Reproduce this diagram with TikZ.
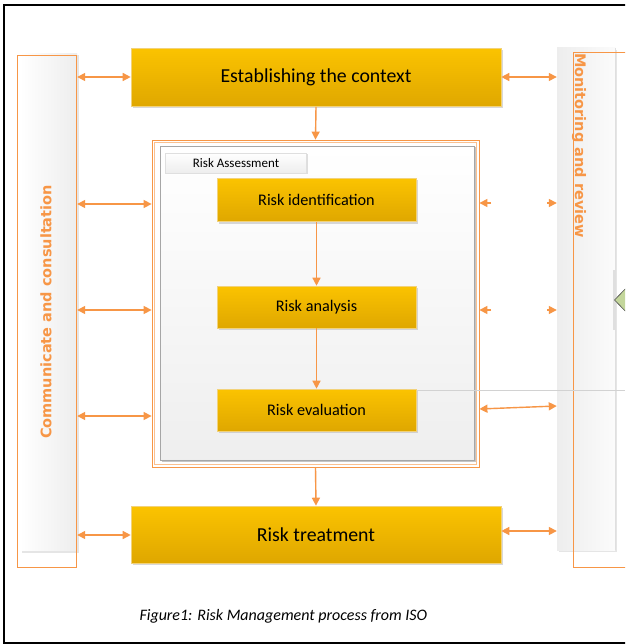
\documentclass[tikz,border=0pt]{standalone}
\usepackage{fontspec}
\setmainfont{Carlito}
\newfontfamily\labfont[BoldFont={DejaVu Sans Bold}]{DejaVu Sans}
\usetikzlibrary{arrows.meta,shadows,calc}
\definecolor{orangeA}{HTML}{F79646}
\definecolor{orangeL}{HTML}{FAC090}
\definecolor{goldT}{HTML}{FBC300}
\definecolor{goldB}{HTML}{DFA700}
\definecolor{goldE}{HTML}{F2D27A}
\definecolor{diam}{HTML}{C3D69B}
\tikzset{
  goldbox/.style={draw=goldE, line width=0.6pt, top color=goldT, bottom color=goldB,
    drop shadow={shadow xshift=2pt, shadow yshift=-2pt, fill=black!30, opacity=0.5},
    text=black, inner sep=0pt},
  biarrow/.style={draw=orangeA, line width=1.4pt,
    {Triangle[length=8pt,width=8pt]}-{Triangle[length=8pt,width=8pt]}},
  onearrow/.style={draw=orangeA, line width=1.4pt, -{Triangle[length=8pt,width=8pt]}},
  sidebar/.style={draw=none, inner sep=0pt,
    drop shadow={shadow xshift=2pt, shadow yshift=-2pt, fill=black!20}},
  sidelabel/.style={text=orangeA, font=\labfont\bfseries\fontsize{14.5}{16}\selectfont},
}
\begin{document}
\begin{tikzpicture}[x=1pt,y=-1pt]
\useasboundingbox (0,0) rectangle (625,644);
\clip (0,0) rectangle (625,644);
\fill[white] (0,0) rectangle (625,644);

% side bars
\node[sidebar, left color=white, right color=gray!14, minimum width=57pt, minimum height=497pt] (leftbar) at (48.5,302) {};
\node[draw=orangeA, line width=0.7pt, minimum width=59pt, minimum height=512pt, inner sep=0pt] (leftframe) at (46.5,311) {};
\node[sidebar, left color=gray!14, right color=white!97!gray, minimum width=58pt, minimum height=502pt] (rightbar) at (586,299) {};
\draw[gray!25, line width=1pt] (rightbar.north east) -- (rightbar.south east);
\draw[gray!25, line width=3pt] (614,270) -- (614,330);
\node[draw=orangeA, line width=0.7pt, minimum width=80pt, minimum height=515pt, inner sep=0pt] (rightframe) at (613,309.5) {};

\node[sidelabel, rotate=90] (comm) at (46,312) {Communicate and consultation};
\node[sidelabel, rotate=-90] (mon) at (579,145.5) {Monitoring and review};

% diamond partially visible
\draw[fill=diam, draw=black!70, line width=0.6pt] (614.5,300) -- (632,282) -- (650,300) -- (632,318) -- cycle;

% assessment frame
\node[draw=orangeA, line width=0.8pt, minimum width=327pt, minimum height=327pt, inner sep=0pt] (outer) at (315.5,303.5) {};
\node[draw=orangeL, line width=0.6pt, minimum width=322pt, minimum height=322pt, inner sep=0pt] (outer2) at (315.5,303.5) {};
\node[draw=gray!70, line width=0.8pt, top color=white, bottom color=gray!13, minimum width=314pt, minimum height=314pt, inner sep=0pt,
  drop shadow={shadow xshift=1.5pt, shadow yshift=-1.5pt, fill=black!45}] (inner) at (317,303) {};
\node[draw=gray!25, line width=0.5pt, top color=white, bottom color=gray!14, minimum width=141pt, minimum height=20pt, inner sep=0pt,
  drop shadow={shadow xshift=1.5pt, shadow yshift=-1.5pt, fill=black!25}, font=\fontsize{13}{14}\selectfont] (tab) at (236,163) {Risk Assessment};

% gray guide line
\draw[gray!35, line width=0.8pt] (416,390) -- (625,390);

% main boxes
\node[goldbox, minimum width=370pt, minimum height=58pt, font=\fontsize{19.8}{22}\selectfont] (est) at (316,77.5) {Establishing the context};
\node[goldbox, minimum width=370pt, minimum height=57pt, font=\fontsize{19.8}{22}\selectfont] (treat) at (316,534.5) {Risk treatment};
\node[goldbox, minimum width=199pt, minimum height=43pt, font=\fontsize{16.2}{18}\selectfont] (rid) at (316.5,200) {Risk identification};
\node[goldbox, minimum width=199pt, minimum height=42pt, font=\fontsize{16.2}{18}\selectfont] (ran) at (316.5,307) {Risk analysis};
\node[goldbox, minimum width=199pt, minimum height=42pt, font=\fontsize{16.2}{18}\selectfont] (rev) at (316.5,410) {Risk evaluation};

% caption
\node[font=\itshape\fontsize{16}{18}\selectfont, anchor=west] (cap) at (136,616) {Figure1: Risk Management process from ISO};

% vertical flow
\draw[onearrow] (est.south) -- (outer.north);
\draw[onearrow] (rid.south) -- (ran.north);
\draw[onearrow] (ran.south) -- (rev.north);
\draw[onearrow] (outer.south) -- (treat.north);

% helper rows
\coordinate (y77) at (0,77);
\coordinate (y204) at (0,204);
\coordinate (y310) at (0,310);
\coordinate (y416) at (0,416);
\coordinate (y535) at (0,535);
\coordinate (y531) at (0,531);
\coordinate (y203) at (0,203);
\coordinate (y409) at (0,409);
\coordinate (y406) at (0,406);

% left arrows
\draw[biarrow] (leftbar.east |- y77) -- (est.west |- y77);
\draw[biarrow] (leftbar.east |- y204) -- (outer.west |- y204);
\draw[biarrow] (leftbar.east |- y310) -- (outer.west |- y310);
\draw[biarrow] (leftbar.east |- y416) -- (outer.west |- y416);
\draw[biarrow] (leftbar.east |- y535) -- (treat.west |- y535);

% right arrows
\draw[biarrow] (est.east |- y77) -- (rightbar.west |- y77);
\draw[biarrow] (treat.east |- y531) -- (rightbar.west |- y531);
\draw[biarrow] (outer.east |- y409) -- (rightbar.west |- y406);
\coordinate (s1) at (491,203);
\coordinate (s2) at (547,203);
\coordinate (s3) at (491,310);
\coordinate (s4) at (547,310);
\draw[onearrow] (s1) -- (outer.east |- y203);
\draw[onearrow] (s2) -- (rightbar.west |- y203);
\draw[onearrow] (s3) -- (outer.east |- y310);
\draw[onearrow] (s4) -- (rightbar.west |- y310);

% outer frame
\draw[black, line width=2.8pt] (626,5) -- (4,5) -- (4,643) -- (626,643);
\end{tikzpicture}
\end{document}
